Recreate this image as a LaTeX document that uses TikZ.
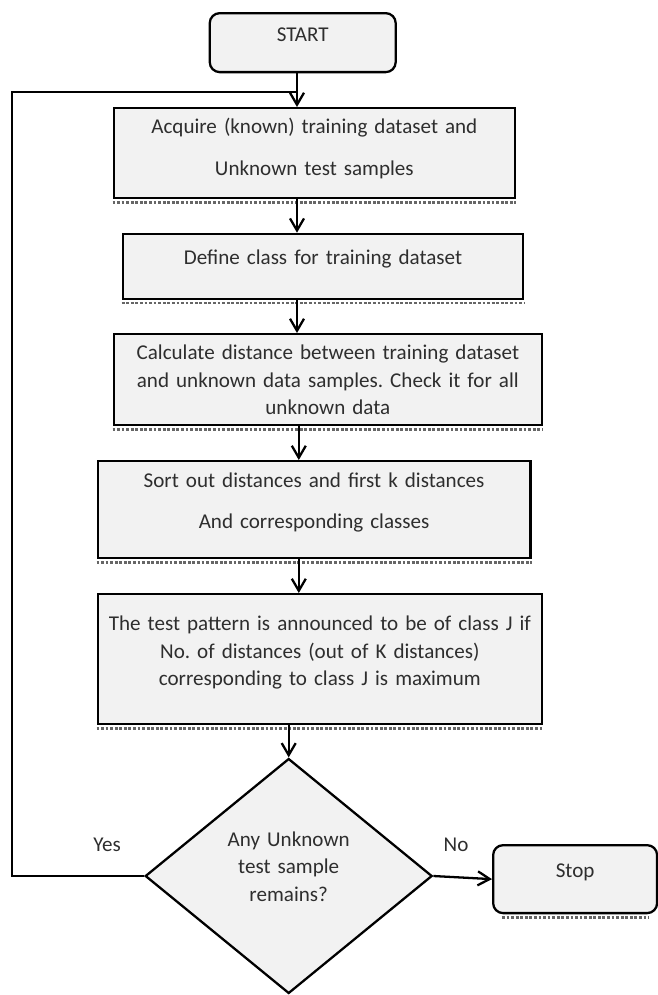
\documentclass[tikz,border=0pt]{standalone}
\usepackage{fontspec}
\setmainfont{Carlito}
\usetikzlibrary{shapes.geometric,arrows.meta}
\definecolor{boxgray}{HTML}{F2F2F2}
\definecolor{inkgray}{HTML}{2E2E2E}
\frenchspacing

\begin{document}
\begin{tikzpicture}[x=0.02cm,y=-0.02cm,
	process/.style={draw,line width=1.3pt,fill=boxgray,text=inkgray,align=center,inner xsep=0pt,inner ysep=0pt,anchor=north west,font=\fontsize{12}{15.6}\selectfont},
	startstop/.style={process,rounded corners=0.2cm},
	decision/.style={draw,diamond,line width=1.3pt,fill=boxgray,text=inkgray,align=center,inner sep=0pt,font=\fontsize{12}{15.9}\selectfont},
	answer/.style={text=inkgray,font=\fontsize{12}{15.6}\selectfont},
	flowline/.style={line width=1.3pt,-{Straight Barb[length=2.4mm,width=2.8mm]}},
	boxshadow/.style={black!60,densely dotted,line width=1.6pt}]
	\useasboundingbox (0,0) rectangle (658,995);

	\node[startstop,text width=3.72cm,text height=0.56cm,text depth=0.62cm] (start) at (208.6,12) {START};
	\node[process,text width=8.03cm,text height=0.51cm,text depth=1.29cm] (acquire) at (112.5,107) {Acquire (known) training dataset and\\[8pt] Unknown test samples};
	\node[process,text width=8.01cm,text height=0.61cm,text depth=0.69cm] (define) at (121.7,232.7) {Define class for training dataset};
	\node[process,text width=8.57cm,text height=0.51cm,text depth=1.31cm] (calc) at (112.5,333) {Calculate distance between training dataset\\ and unknown data samples. Check it for all\\ unknown data};
	\node[process,text width=8.66cm,text height=0.52cm,text depth=1.42cm] (sort) at (96.5,460) {Sort out distances and first k distances\\[8pt] And corresponding classes};
	\node[process,text width=8.89cm,text height=0.73cm,text depth=1.87cm] (vote) at (96.5,593) {The test pattern is announced to be of class J if\\ No. of distances (out of K distances)\\ corresponding to class J is maximum};
	\node[decision,minimum width=5.74cm,minimum height=4.7cm,text width=2.8cm,text height=0.3cm,text depth=1.5cm] (remain) at (288.7,876) {Any Unknown\\ test sample\\ remains?};
	\node[startstop,text width=3.28cm,text height=0.64cm,text depth=0.72cm] (stop) at (492,844) {Stop};
	\node[answer] (yes) at (107,845) {Yes};
	\node[answer] (no) at (456,845) {No};

	% shadows under the boxes
	\draw[boxshadow] ([yshift=-0.06cm]acquire.south west) -- ([yshift=-0.06cm]acquire.south east);
	\draw[boxshadow] ([yshift=-0.06cm]define.south west) -- ([yshift=-0.06cm]define.south east);
	\draw[boxshadow] ([yshift=-0.06cm]calc.south west) -- ([yshift=-0.06cm]calc.south east);
	\draw[boxshadow] ([yshift=-0.06cm]sort.south west) -- ([yshift=-0.06cm]sort.south east);
	\draw[boxshadow] ([yshift=-0.06cm]vote.south west) -- ([yshift=-0.06cm]vote.south east);
	\draw[boxshadow] ([xshift=0.2cm,yshift=-0.06cm]stop.south west) -- ([xshift=-0.2cm,yshift=-0.06cm]stop.south east);

	\coordinate (spine) at (297,92);
	\coordinate (spinetwo) at (298.8,0);
	\coordinate (loop) at (11.7,92);

	\draw[flowline] (start.south -| spine) -- (acquire.north -| spine);
	\draw[line width=1.3pt] (remain.west) -- (remain.west -| loop) -- (loop) -- (spine);
	\draw[flowline] (acquire.south -| spine) -- (define.north -| spine);
	\draw[flowline] (define.south -| spine) -- (calc.north -| spine);
	\draw[flowline] (calc.south -| spinetwo) -- (sort.north -| spinetwo);
	\draw[flowline] (sort.south -| spinetwo) -- (vote.north -| spinetwo);
	\draw[flowline] (vote.south -| remain.north) -- (remain.north);
	\draw[flowline] (remain.east) -- (stop.west);
\end{tikzpicture}
\end{document}
